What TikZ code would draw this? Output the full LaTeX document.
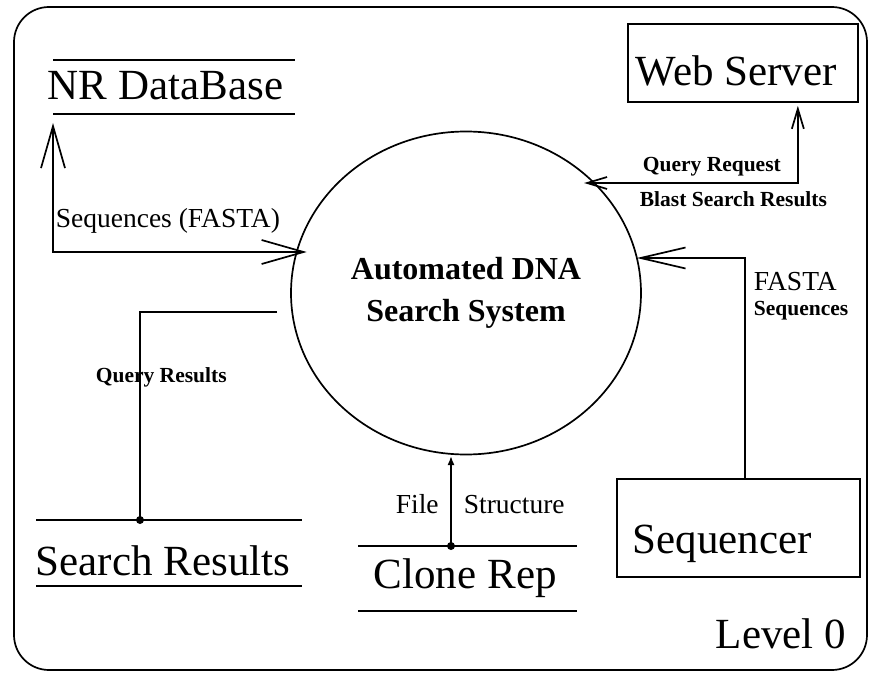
\documentclass[tikz,border=0pt]{standalone}
\usepackage{fontspec}
\setmainfont{Liberation Serif}
\usetikzlibrary{arrows.meta,shapes.geometric,calc}

\tikzset{
  lw/.style={line width=1.7pt},
  bigtext/.style={font=\fontsize{43pt}{50pt}\selectfont, inner sep=0pt, anchor=base west},
  midtext/.style={font=\fontsize{27.5pt}{30pt}\selectfont, inner sep=0pt, anchor=base west},
  smalltext/.style={font=\bfseries\fontsize{21.5pt}{24pt}\selectfont, inner sep=0pt, anchor=base west},
  storeslot/.style={inner sep=0pt, outer sep=0pt},
  entitybox/.style={draw, lw, inner sep=0pt},
  process/.style={draw, lw, ellipse, inner sep=0pt, align=center,
    font=\bfseries\fontsize{32pt}{42pt}\selectfont},
  bigV/.tip={Straight Barb[length=42pt, width=24pt]},
  midV/.tip={Straight Barb[length=45pt, width=21pt]},
  smallV/.tip={Straight Barb[length=20pt, width=12pt]},
  junction/.style={circle, fill, inner sep=0pt, minimum size=8pt},
}

\begin{document}
\begin{tikzpicture}[x=1pt, y=-1pt, lw]
\useasboundingbox (0,0) rectangle (871,674);

% outer frame
\node[draw, lw, rounded corners=35pt, minimum width=853pt, minimum height=663pt,
      inner sep=0pt] (frame) at (440.5,338.5) {};

% central process
\node[process, minimum width=350pt, minimum height=323pt] (sys) at (466,293)
  {Automated DNA\\Search System};

% data stores (text between two rules)
\node[storeslot, minimum width=242pt, minimum height=54pt] (nr) at (174,87) {};
\draw (nr.north west) -- (nr.north east);
\draw (nr.south west) -- (nr.south east);
\node[bigtext] (nrtext) at (47,100) {NR DataBase};

\node[storeslot, minimum width=266pt, minimum height=66pt] (sr) at (169,553) {};
\draw (sr.north west) -- (sr.north east);
\draw (sr.south west) -- (sr.south east);
\node[bigtext] (srtext) at (35,575) {Search Results};

\node[storeslot, minimum width=219pt, minimum height=65pt] (cr) at (467.5,578.5) {};
\draw (cr.north west) -- (cr.north east);
\draw (cr.south west) -- (cr.south east);
\node[bigtext] (crtext) at (373,588) {Clone Rep};

% external entities
\node[entitybox, minimum width=230pt, minimum height=78pt] (ws) at (743,63) {};
\node[bigtext] (wstext) at (635,86) {Web Server};

\node[entitybox, minimum width=243pt, minimum height=98pt] (seq) at (738.5,528) {};
\node[bigtext] (seqtext) at (632,553) {Sequencer};

\node[bigtext] (level) at (715,648) {Level 0};

% connector end points
\coordinate (sysL) at ($(sys.center)+(-169.3,-41)$);
\coordinate (nrIn) at ($(nr.south west)+(0,9)$);
\coordinate (sysQ) at ($(sys.center)+(128.1,-110)$);
\coordinate (wsIn) at ($(ws.south east)+(-61,3)$);
\coordinate (sysR) at ($(sys.center)+(170.8,-35)$);
\coordinate (seqOut) at ($(seq.north west)+(129,0)$);
\coordinate (qrStart) at ($(sys.west)+(-13,19)$);
\coordinate (srIn) at ($(sr.north west)+(104,0)$);
\coordinate (crOut) at ($(cr.north west)+(93,0)$);
\coordinate (sysB) at ($(sys.center)+(-15,163)$);

% flows
\draw[{bigV}-{bigV}, shorten <=-10pt] (sysL) -| (nrIn);
\draw[{smallV}-{smallV}, shorten <=-10pt] (sysQ) -| (wsIn);
\draw[-{midV}] (seqOut) |- (sysR);
\draw (qrStart) -| (srIn);
\node[junction] (srDot) at (srIn) {};
\draw[-{Latex[length=9pt, width=7pt]}] (crOut) -- (sysB);
\node[junction] (crDot) at (crOut) {};

% flow labels
\node[midtext] (lSeq) at (55,227) {Sequences (FASTA)};
\node[smalltext] (lQReq) at (642,172) {Query Request};
\node[smalltext] (lBlast) at (639,207) {Blast Search Results};
\node[midtext] (lFasta) at (753,290) {FASTA};
\node[smalltext] (lFSeq) at (753,315) {Sequences};
\node[smalltext] (lQRes) at (95,382) {Query Results};
\node[midtext] (lFile) at (395,513) {File};
\node[midtext] (lStruct) at (463,513) {Structure};
\end{tikzpicture}
\end{document}
